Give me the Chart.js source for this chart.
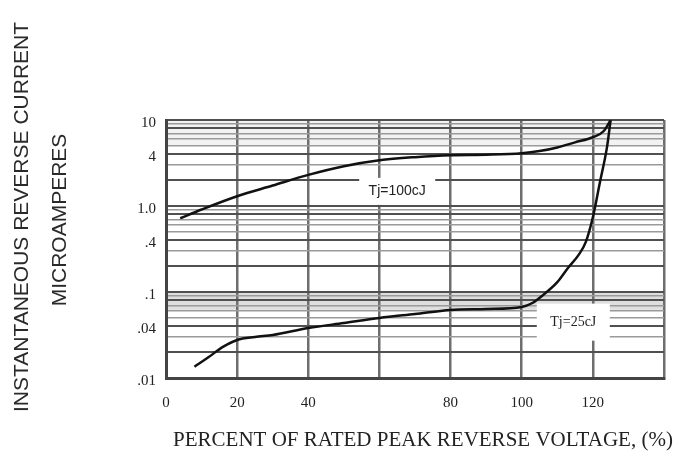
<!DOCTYPE html>
<html>
<head>
<meta charset="utf-8">
<script src="https://cdn.jsdelivr.net/npm/chart.js@4/dist/chart.umd.min.js"></script>
<style>
html,body{margin:0;padding:0;background:#fff;}
#c{display:block;}
</style>
</head>
<body>
<canvas id="c" width="676" height="457"></canvas>
<script>
// ---- data ----
const x100 = [4, 10, 20, 30, 40, 50, 60, 70, 80, 90, 100, 105, 110, 115, 120, 123, 125];
const y100 = [0.72, 0.91, 1.3, 1.73, 2.3, 2.9, 3.4, 3.7, 3.9, 3.95, 4.1, 4.35, 4.8, 5.5, 6.3, 7.4, 10];

const x25 = [8, 12, 16, 20, 25, 30, 40, 50, 60, 70, 80, 90, 100, 103, 106, 110, 113, 116, 118, 120, 122, 124, 125];
const y25 = [0.0135, 0.0175, 0.023, 0.0277, 0.030, 0.0316, 0.0381, 0.0436, 0.0499, 0.0555, 0.0618, 0.0634, 0.067, 0.0745, 0.092, 0.13, 0.19, 0.27, 0.38, 0.74, 1.9, 4.9, 10];

const xTickValues = [0, 20, 40, 60, 80, 100, 120, 140];
const xTickLabels = ['0', '20', '40', '', '80', '100', '120', ''];

const yGridValues = [0.01, 0.02, 0.03, 0.04, 0.05, 0.06, 0.07, 0.08, 0.09,
                     0.1, 0.2, 0.3, 0.4, 0.5, 0.6, 0.7, 0.8, 0.9,
                     1, 2, 3, 4, 5, 6, 7, 8, 9, 10];
const yLabelValues = [0.01, 0.04, 0.1, 0.4, 1, 4, 10];
const yLabelTexts  = ['.01', '.04', '.1', '.4', '1.0', '4', '10'];

const seriesNames = ['Tj=100cJ', 'Tj=25cJ'];
const curveLabelX = [65, 114.5];
const curveLabelY = [1.48, 0.0446];

const xTitle = 'PERCENT OF RATED PEAK REVERSE VOLTAGE, (%)';
const yTitleLines = ['INSTANTANEOUS REVERSE CURRENT', 'MICROAMPERES'];

// ---- helpers ----
function toPoints(xs, ys){ return xs.map((x,i)=>({x:x, y:ys[i]})); }
function mantissa(v){ const e = Math.floor(Math.log10(v)+1e-9); return Math.round(v/Math.pow(10,e)); }

const extrasPlugin = {
  id: 'extras',
  beforeDraw(chart){
    const {ctx, chartArea:a, scales:{y}} = chart;
    ctx.save();
    ctx.fillStyle = 'rgba(0,0,0,0.13)';
    const t = y.getPixelForValue(0.1), b = y.getPixelForValue(0.062);
    ctx.fillRect(a.left, t, a.right-a.left, b-t);
    ctx.fillStyle = 'rgba(0,0,0,0.05)';
    const t2 = y.getPixelForValue(10), b2 = y.getPixelForValue(5);
    ctx.fillRect(a.left, t2, a.right-a.left, b2-t2);
    ctx.restore();
  },
  afterDatasetsDraw(chart){
    const {ctx, scales:{x, y}} = chart;
    ctx.save();
    const fonts = ['14px "Liberation Sans", Arial, sans-serif', '14px "Liberation Serif", "Times New Roman", serif'];
    const boxW = [76, 73], boxH = [27, 37];
    seriesNames.forEach((name, i) => {
      const px = x.getPixelForValue(curveLabelX[i]);
      const py = y.getPixelForValue(curveLabelY[i]);
      ctx.fillStyle = '#fff';
      ctx.fillRect(px - boxW[i]/2, py - boxH[i]/2, boxW[i], boxH[i]);
      ctx.fillStyle = '#222';
      ctx.font = fonts[i];
      ctx.textAlign = 'center';
      ctx.textBaseline = 'middle';
      ctx.fillText(name, px, py);
    });
    ctx.restore();
  },
  afterDraw(chart){
    const ctx = chart.ctx;
    ctx.save();
    ctx.fillStyle = '#2a2a2a';
    ctx.font = '21px "Liberation Sans", Arial, sans-serif';
    ctx.textAlign = 'center';
    ctx.textBaseline = 'middle';
    const pos = [[22, 217], [60, 220]];
    yTitleLines.forEach((t, i) => {
      ctx.save();
      ctx.translate(pos[i][0], pos[i][1]);
      ctx.rotate(-Math.PI/2);
      ctx.fillText(t, 0, 0);
      ctx.restore();
    });
    ctx.fillStyle = '#222';
    ctx.font = '21px "Liberation Serif", "Times New Roman", serif';
    ctx.fillText(xTitle, 423, 440);
    ctx.restore();
  }
};

new Chart(document.getElementById('c'), {
  type: 'line',
  data: {
    datasets: [
      { label: seriesNames[0], data: toPoints(x100, y100), borderColor: '#111', borderWidth: 2.5, pointRadius: 0, cubicInterpolationMode: 'monotone', fill: false },
      { label: seriesNames[1], data: toPoints(x25, y25), borderColor: '#111', borderWidth: 2.5, pointRadius: 0, cubicInterpolationMode: 'monotone', fill: false }
    ]
  },
  options: {
    responsive: false,
    animation: false,
    layout: { padding: { top: 120, right: 12, left: 0, bottom: 0 } },
    plugins: { legend: { display: false }, tooltip: { enabled: false }, title: { display: false } },
    scales: {
      x: {
        type: 'linear', min: 0, max: 140,
        afterBuildTicks(s){ s.ticks = xTickValues.map(v => ({value: v})); },
        afterFit(s){ s.height = 79; s.paddingRight = 0; s.paddingLeft = 0; },
        ticks: {
          autoSkip: false, maxRotation: 0, padding: 16, color: '#222',
          font: { family: '"Liberation Serif", "Times New Roman", serif', size: 15 },
          callback(v){ const i = xTickValues.indexOf(v); return i >= 0 ? xTickLabels[i] : ''; }
        },
        grid: { drawTicks: false, color: '#6e6e6e', lineWidth: 2.5 },
        border: { display: true, color: '#444', width: 3 }
      },
      y: {
        type: 'logarithmic', min: 0.01, max: 10,
        afterBuildTicks(s){ s.ticks = yGridValues.map(v => ({value: v})); },
        afterFit(s){ s.width = 166; },
        ticks: {
          autoSkip: false, padding: 10, labelOffset: 3, color: '#222',
          font: { family: '"Liberation Serif", "Times New Roman", serif', size: 15 },
          callback(v){
            const i = yLabelValues.findIndex(w => Math.abs(w - v) < 1e-9);
            return i >= 0 ? yLabelTexts[i] : '';
          }
        },
        grid: {
          drawTicks: false,
          color(ctx){ const m = mantissa(ctx.tick.value); return (m===1||m===2||m===4||m===8) ? '#505050' : '#9a9a9a'; },
          lineWidth(ctx){ const m = mantissa(ctx.tick.value); return (m===1||m===2||m===4||m===8) ? 2 : 1.5; }
        },
        border: { display: true, color: '#444', width: 3 }
      }
    }
  },
  plugins: [extrasPlugin]
});
</script>
</body>
</html>
